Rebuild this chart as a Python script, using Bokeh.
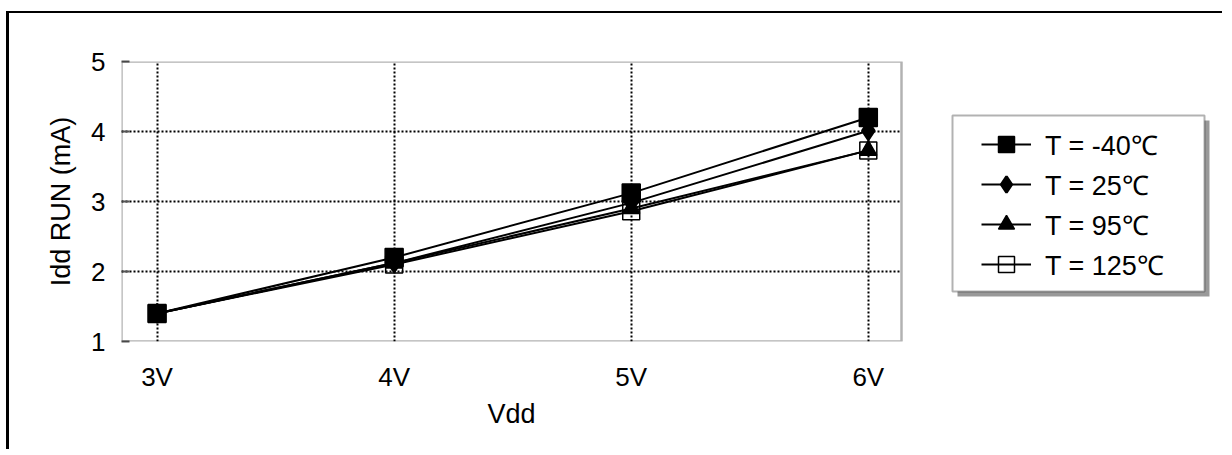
from bokeh.plotting import figure
from bokeh.models import (ColumnDataSource, FixedTicker, Range1d, Legend, LegendItem,
                          BoxAnnotation, Grid, Title)
from bokeh.embed import file_html
from bokeh.resources import INLINE

# ---- data ----
vdd = [3, 4, 5, 6]
vdd_labels = ["3V", "4V", "5V", "6V"]
idd_m40 = [1.40, 2.20, 3.12, 4.20]
idd_25 = [1.40, 2.12, 2.98, 4.01]
idd_95 = [1.40, 2.12, 2.90, 3.73]
idd_125 = [1.40, 2.10, 2.86, 3.73]
series_names = ["T = -40℃", "T = 25℃", "T = 95℃", "T = 125℃"]
y_ticks = [1, 2, 3, 4, 5]
grid_y = [2, 3, 4]

# plot-area extent in data units (x); frame is extended to the right to hold the legend
X0, X1 = 2.85, 6.14
Y0, Y1 = 1, 5
AREA_PX = 780
FRAME_PX = 1101
X_END = X0 + FRAME_PX * (X1 - X0) / AREA_PX

FONT = "Liberation Sans"

p = figure(frame_width=FRAME_PX, frame_height=280,
           min_border_left=112, min_border_top=48, min_border_bottom=108, min_border_right=0,
           x_range=Range1d(X0, X_END), y_range=Range1d(Y0, Y1),
           output_backend="svg", toolbar_location=None,
           background_fill_color="white", border_fill_color="white")
p.styles = {"margin-top": "11px", "margin-left": "6px",
            "border-top": "2px solid black", "border-left": "3px solid black"}
p.outline_line_color = None

# axes
p.xaxis.ticker = FixedTicker(ticks=vdd)
p.xaxis.major_label_overrides = {v: l for v, l in zip(vdd, vdd_labels)}
p.yaxis.ticker = FixedTicker(ticks=y_ticks)
for ax in (p.xaxis, p.yaxis):
    ax.axis_line_color = None
    ax.major_tick_out = 0
    ax.major_tick_in = 8
    ax.major_tick_line_color = "#555555"
    ax.major_tick_line_width = 2
    ax.minor_tick_line_color = None
    ax.major_label_text_font = FONT
    ax.major_label_text_font_size = "26px"
    ax.major_label_text_color = "black"
    ax.axis_label_text_font = FONT
    ax.axis_label_text_font_size = "27px"
    ax.axis_label_text_font_style = "normal"
    ax.axis_label_text_color = "black"
p.xaxis.major_tick_in = 0
p.yaxis.axis_label = "Idd RUN (mA)"
p.xaxis.major_label_standoff = 20
p.yaxis.major_label_standoff = 16
p.yaxis.axis_label_standoff = 12

# x-axis title centred under the plot area (not under the extended frame)
p.add_layout(Title(text="Vdd", align="left", offset=366, standoff=4,
                   text_font=FONT, text_font_size="27px", text_font_style="normal",
                   text_color="black"), "below")

# grid
p.xgrid.grid_line_color = "black"
p.xgrid.grid_line_dash = "2 2"
p.xgrid.grid_line_width = 2
p.ygrid.ticker = FixedTicker(ticks=grid_y)
if "cross_bounds" in Grid.properties():
    p.ygrid.grid_line_color = "black"
    p.ygrid.grid_line_dash = "2 2"
    p.ygrid.grid_line_width = 2
    p.ygrid.cross_bounds = (X0, X1)
else:
    p.ygrid.grid_line_color = None
    p.multi_line(xs=[[X0, X1] for _ in grid_y], ys=[[g, g] for g in grid_y],
                 line_color="black", line_dash="2 2", line_width=2)

# plot-area frame
p.add_layout(BoxAnnotation(left=X0, right=X1, bottom=Y0, top=Y1,
                           fill_alpha=0, line_color="black", line_width=2.5))

# series
src = ColumnDataSource(dict(x=vdd, a=idd_m40, b=idd_25, c=idd_95, d=idd_125))
items = []
specs = [
    ("a", dict(marker="square", size=18, fill_color="black", line_width=1.5)),
    ("b", dict(marker="diamond", size=18, fill_color="black", line_width=2.5)),
    ("c", dict(marker="triangle", size=17, fill_color="black", line_width=1.5)),
    ("d", dict(marker="square", size=17, fill_color=None, line_width=1.5)),
]
for (col, ms), name in zip(specs, series_names):
    ln = p.line("x", col, source=src, line_color="black", line_width=2)
    sc = p.scatter("x", col, source=src, line_color="black", **ms)
    items.append(LegendItem(label=name, renderers=[ln, sc]))

# legend box with shadow (canvas pixels)
shadow = BoxAnnotation(left=945, right=1197, top=105, bottom=281,
                       left_units="canvas", right_units="canvas",
                       top_units="canvas", bottom_units="canvas",
                       fill_color="#999999", fill_alpha=1, line_color=None)
box = BoxAnnotation(left=940, right=1192, top=100, bottom=276,
                    left_units="canvas", right_units="canvas",
                    top_units="canvas", bottom_units="canvas",
                    fill_color="white", fill_alpha=1, line_color="black", line_width=2)
p.add_layout(shadow)
p.add_layout(box)

legend = Legend(items=items, location=(860, 57), padding=0, margin=0, spacing=0,
                glyph_width=50, glyph_height=40, label_height=40, label_standoff=14,
                label_text_font=FONT, label_text_font_size="27px", label_text_color="black",
                border_line_color=None, background_fill_alpha=0)
p.add_layout(legend)

open("out.html", "w").write(file_html(p, INLINE))
